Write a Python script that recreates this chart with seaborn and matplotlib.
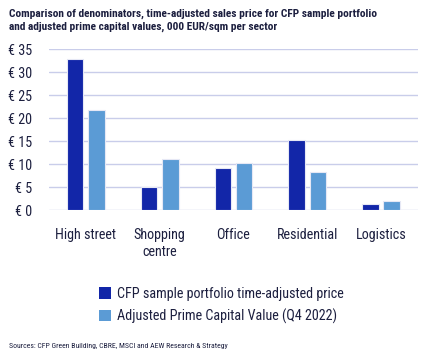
import numpy as np
import pandas as pd
import seaborn as sns
import matplotlib.pyplot as plt
from matplotlib.patches import Patch
from matplotlib.ticker import FuncFormatter

# datos (miles EUR/m2)
sectores = ["High street", "Shopping\ncentre", "Office", "Residential", "Logistics"]
cfp_precio = [33.0, 5.0, 9.2, 15.2, 1.4]
prime_valor = [21.9, 11.1, 10.3, 8.3, 2.0]
series = ["CFP sample portfolio time-adjusted price", "Adjusted Prime Capital Value (Q4 2022)"]
colores = ["#1226a8", "#5b9bd5"]
texto = "#1c1f3f"

df = pd.DataFrame({
    "Sector": sectores * 2,
    "Valor": cfp_precio + prime_valor,
    "Serie": [series[0]] * len(sectores) + [series[1]] * len(sectores),
})

sns.set_style("white")
plt.rcParams["font.family"] = ["Roboto Condensed", "DejaVu Sans"]

fig = plt.figure(figsize=(4.26, 3.56), dpi=100)
ax = fig.add_axes([0.115, 0.409, 0.866, 0.4525])

sns.barplot(data=df, x="Sector", y="Valor", hue="Serie", palette=colores,
            saturation=1, width=0.58, gap=0.23, edgecolor="#e6e8f5", linewidth=0.8,
            legend=False, ax=ax, zorder=3)

ax.set_ylim(0, 35)
ax.set_yticks(np.arange(0, 36, 5))
ax.yaxis.set_major_formatter(FuncFormatter(lambda v, p: f"€ {v:.0f}"))
ax.grid(axis="y", color="#c9cdea", linewidth=1, zorder=0)
ax.set_axisbelow(True)
for s in ax.spines.values():
    s.set_visible(False)
ax.tick_params(axis="both", length=0, labelsize=10.2, colors=texto)
ax.tick_params(axis="x", pad=13)
ax.tick_params(axis="y", pad=12)
ax.set_xlabel("")
ax.set_ylabel("")
ax.set_xlim(-0.5, 4.5)

fig.text(0.021, 0.975, "Comparison of denominators, time-adjusted sales price for CFP sample portfolio\nand adjusted prime capital values, 000 EUR/sqm per sector",
         ha="left", va="top", fontsize=8.2, fontweight="bold", color=texto, linespacing=1.35)

handles = [Patch(facecolor=c, edgecolor="none") for c in colores]
fig.legend(handles, series, loc="center", bbox_to_anchor=(0.52, 0.142), frameon=False,
           fontsize=10.2, labelcolor=texto, handlelength=0.85, handleheight=0.85,
           handletextpad=0.45, labelspacing=0.55)

fig.text(0.021, 0.028, "Sources: CFP Green Building, CBRE, MSCI and AEW Research & Strategy",
         ha="left", va="center", fontsize=5.6, color=texto)

fig.savefig("out.png", dpi=100)
